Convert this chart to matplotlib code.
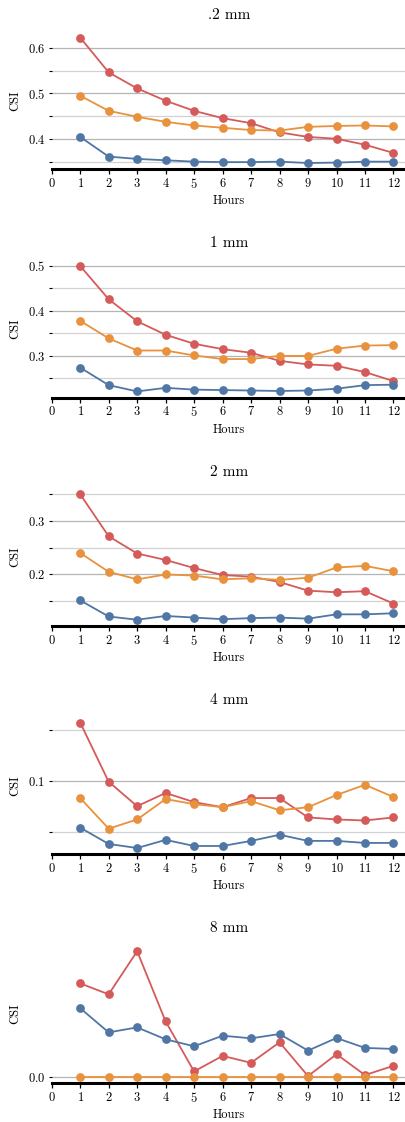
import matplotlib
matplotlib.use("Agg")
import matplotlib.pyplot as plt
from matplotlib.ticker import MultipleLocator

plt.rcParams['font.family'] = ['cmr10', 'DejaVu Serif']
plt.rcParams['mathtext.fontset'] = 'cm'
plt.rcParams['axes.formatter.use_mathtext'] = True

hours = list(range(1, 13))
titles = ['.2 mm', '1 mm', '2 mm', '4 mm', '8 mm']

red_02 = [0.622, 0.546, 0.511, 0.484, 0.462, 0.446, 0.435, 0.415, 0.405, 0.401, 0.388, 0.370]
orange_02 = [0.495, 0.462, 0.449, 0.438, 0.430, 0.425, 0.420, 0.419, 0.427, 0.429, 0.430, 0.428]
blue_02 = [0.405, 0.362, 0.357, 0.354, 0.351, 0.350, 0.350, 0.351, 0.348, 0.349, 0.351, 0.351]

red_1 = [0.500, 0.426, 0.377, 0.347, 0.327, 0.315, 0.307, 0.289, 0.281, 0.278, 0.264, 0.244]
orange_1 = [0.378, 0.339, 0.312, 0.312, 0.301, 0.293, 0.293, 0.300, 0.300, 0.316, 0.323, 0.324]
blue_1 = [0.274, 0.235, 0.221, 0.229, 0.225, 0.224, 0.223, 0.222, 0.223, 0.227, 0.235, 0.236]

red_2 = [0.349, 0.271, 0.239, 0.227, 0.212, 0.199, 0.196, 0.186, 0.170, 0.167, 0.169, 0.146]
orange_2 = [0.240, 0.205, 0.191, 0.200, 0.198, 0.191, 0.193, 0.190, 0.194, 0.213, 0.216, 0.206]
blue_2 = [0.152, 0.122, 0.116, 0.123, 0.120, 0.117, 0.119, 0.120, 0.118, 0.126, 0.126, 0.128]

red_4 = [0.157, 0.099, 0.075, 0.088, 0.079, 0.074, 0.083, 0.083, 0.064, 0.062, 0.061, 0.064]
orange_4 = [0.083, 0.053, 0.062, 0.082, 0.077, 0.074, 0.080, 0.071, 0.074, 0.086, 0.096, 0.084]
blue_4 = [0.054, 0.038, 0.034, 0.042, 0.036, 0.036, 0.041, 0.047, 0.041, 0.041, 0.039, 0.039]

red_8 = [0.0282, 0.0249, 0.0379, 0.0167, 0.0016, 0.0063, 0.0042, 0.0104, 0.0002, 0.0068, 0.0005, 0.0033]
orange_8 = [0.0] * 12
blue_8 = [0.0207, 0.0134, 0.0149, 0.0113, 0.0092, 0.0124, 0.0116, 0.0129, 0.0079, 0.0117, 0.0087, 0.0084]

reds = [red_02, red_1, red_2, red_4, red_8]
oranges = [orange_02, orange_1, orange_2, orange_4, orange_8]
blues = [blue_02, blue_1, blue_2, blue_4, blue_8]

c_red = '#d45b5a'
c_orange = '#e8923e'
c_blue = '#4f76a5'

W, H = 406, 1122
fig = plt.figure(figsize=(W / 100, H / 100), dpi=100)

bottoms_px = [169.3, 397.7, 626.0, 854.3, 1083.0]
ax_h = 138
left_px = 51.7

for i in range(5):
    b = bottoms_px[i]
    ax = fig.add_axes([left_px / W, (H - b) / H, (W - left_px) / W, ax_h / H])
    for ys, c in [(reds[i], c_red), (oranges[i], c_orange), (blues[i], c_blue)]:
        ax.plot(hours, ys, color=c, lw=1.3, marker='o', ms=6.3, mew=0)
    ax.set_xlim(0, 12.44)
    ax.set_xticks(range(0, 13))
    ax.yaxis.set_major_locator(MultipleLocator(0.1))
    ax.yaxis.set_minor_locator(MultipleLocator(0.05))
    ax.grid(True, which='major', axis='y', color='#b4b4b4', lw=0.9)
    ax.grid(True, which='minor', axis='y', color='#d2d2d2', lw=0.9)
    ax.set_axisbelow(True)
    for s in ['top', 'right', 'left']:
        ax.spines[s].set_visible(False)
    ax.spines['bottom'].set_linewidth(2.2)
    ax.spines['bottom'].set_color('black')
    ax.tick_params(axis='x', length=3.5, width=0.9, labelsize=9, pad=2)
    ax.tick_params(axis='y', which='both', length=2.5, width=0.8, labelsize=9, pad=2)
    ax.set_title(titles[i], fontsize=11, pad=9)
    ax.set_ylabel('CSI', fontsize=9, labelpad=5)
    ax.set_xlabel('Hours', fontsize=9, labelpad=3)

fig.savefig('out.png', dpi=100)
